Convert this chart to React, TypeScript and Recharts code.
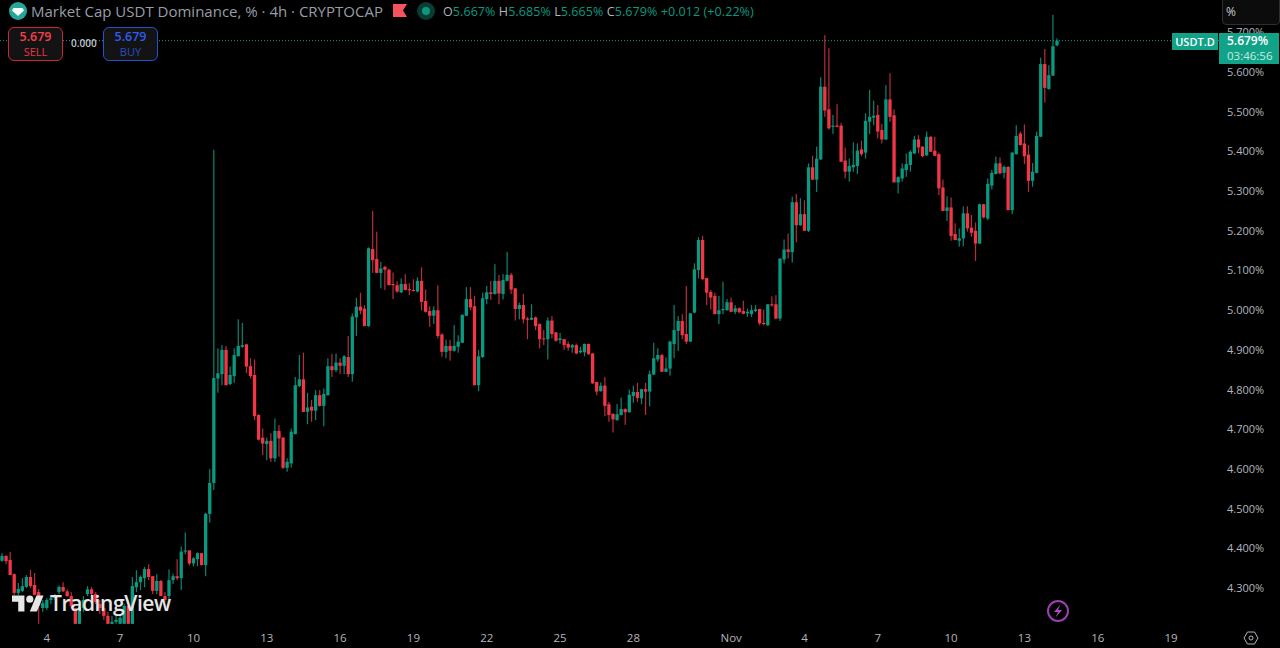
import { Bar, ComposedChart, ReferenceLine, XAxis, YAxis } from "recharts";

const UP = "#089981";
const DOWN = "#f23645";
const UP_WICK = "#0a8572";
const DOWN_WICK = "#b82c3c";
const TEXT = "#b2b5be";
const FONT = "'Open Sans', sans-serif";

// 4h candles
const opens = [
  4.369, 4.381, 4.371, 4.335, 4.288, 4.293, 4.303, 4.328, 4.308, 4.29,
  4.25, 4.25, 4.27, 4.275, 4.29, 4.303, 4.292, 4.28, 4.25, 4.21,
  4.25, 4.285, 4.297, 4.285, 4.26, 4.25, 4.23, 4.21, 4.215, 4.21,
  4.21, 4.255, 4.21, 4.302, 4.315, 4.325, 4.348, 4.33, 4.293, 4.318,
  4.28, 4.28, 4.32, 4.33, 4.325, 4.392, 4.395, 4.362, 4.373, 4.388,
  4.358, 4.487, 4.565, 4.828, 4.839, 4.9, 4.814, 4.834, 4.884, 4.908,
  4.914, 4.859, 4.837, 4.736, 4.679, 4.663, 4.671, 4.627, 4.696, 4.679,
  4.603, 4.614, 4.688, 4.809, 4.826, 4.744, 4.757, 4.747, 4.786, 4.759,
  4.786, 4.859, 4.849, 4.868, 4.86, 4.882, 4.839, 4.982, 5.009, 5.004,
  4.96, 5.154, 5.129, 5.094, 5.109, 5.102, 5.066, 5.063, 5.045, 5.066,
  5.053, 5.051, 5.047, 5.074, 5.023, 4.998, 4.986, 5.0, 4.939, 4.895,
  4.91, 4.898, 4.908, 4.918, 4.986, 5.028, 5.01, 4.811, 4.882, 5.028,
  5.045, 5.041, 5.074, 5.041, 5.074, 5.089, 5.055, 5.003, 5.013, 4.979,
  4.976, 4.982, 4.965, 4.929, 4.927, 4.974, 4.944, 4.925, 4.927, 4.915,
  4.906, 4.912, 4.894, 4.894, 4.915, 4.891, 4.819, 4.796, 4.81, 4.763,
  4.739, 4.723, 4.736, 4.751, 4.743, 4.784, 4.794, 4.778, 4.801, 4.795,
  4.838, 4.876, 4.887, 4.845, 4.853, 4.915, 4.948, 4.973, 4.94, 4.921,
  4.994, 5.101, 5.177, 5.081, 5.046, 5.036, 4.99, 5.0, 5.0, 5.02,
  4.996, 5.005, 4.998, 4.992, 4.99, 4.998, 5.003, 4.968, 4.962, 5.015,
  5.015, 4.979, 5.128, 5.153, 5.146, 5.272, 5.214, 5.242, 5.2, 5.36,
  5.329, 5.38, 5.563, 5.506, 5.462, 5.465, 5.465, 5.377, 5.349, 5.36,
  5.363, 5.405, 5.397, 5.475, 5.485, 5.492, 5.454, 5.43, 5.531, 5.491,
  5.322, 5.332, 5.353, 5.366, 5.395, 5.43, 5.412, 5.39, 5.437, 5.402,
  5.393, 5.309, 5.25, 5.259, 5.192, 5.175, 5.181, 5.244, 5.208, 5.2,
  5.168, 5.267, 5.231, 5.314, 5.343, 5.37, 5.346, 5.361, 5.252, 5.393,
  5.445, 5.42, 5.392, 5.326, 5.346, 5.437, 5.62, 5.557, 5.591, 5.667,
];
const highs = [
  4.388, 4.383, 4.391, 4.337, 4.313, 4.325, 4.333, 4.346, 4.338, 4.297,
  4.27, 4.275, 4.28, 4.285, 4.307, 4.315, 4.297, 4.29, 4.25, 4.26,
  4.28, 4.305, 4.303, 4.29, 4.27, 4.26, 4.24, 4.23, 4.23, 4.235,
  4.26, 4.27, 4.328, 4.345, 4.332, 4.353, 4.36, 4.33, 4.335, 4.32,
  4.29, 4.347, 4.337, 4.373, 4.405, 4.44, 4.395, 4.378, 4.39, 4.388,
  4.49, 4.6, 5.404, 4.904, 4.912, 4.91, 4.858, 4.904, 4.977, 4.968,
  4.916, 4.879, 4.876, 4.738, 4.702, 4.679, 4.69, 4.727, 4.711, 4.681,
  4.627, 4.702, 4.832, 4.887, 4.893, 4.792, 4.774, 4.799, 4.799, 4.803,
  4.879, 4.89, 4.891, 4.879, 4.887, 4.935, 4.992, 5.031, 5.044, 5.013,
  5.158, 5.25, 5.198, 5.122, 5.112, 5.105, 5.095, 5.073, 5.08, 5.091,
  5.068, 5.078, 5.083, 5.108, 5.052, 5.01, 5.01, 5.063, 4.942, 4.926,
  4.925, 4.963, 4.937, 4.99, 5.058, 5.058, 5.036, 4.9, 5.044, 5.061,
  5.074, 5.116, 5.089, 5.091, 5.147, 5.094, 5.056, 5.019, 5.041, 4.983,
  5.015, 4.984, 4.967, 4.95, 4.982, 4.985, 4.945, 4.943, 4.928, 4.921,
  4.915, 4.916, 4.908, 4.916, 4.916, 4.892, 4.82, 4.818, 4.832, 4.769,
  4.74, 4.764, 4.78, 4.753, 4.8, 4.81, 4.817, 4.802, 4.817, 4.848,
  4.918, 4.904, 4.89, 4.881, 4.923, 5.013, 4.985, 4.99, 5.061, 4.993,
  5.118, 5.184, 5.187, 5.082, 5.051, 5.044, 5.036, 5.072, 5.028, 5.032,
  5.013, 5.007, 5.024, 5.004, 5.013, 5.013, 5.004, 5.002, 5.016, 5.035,
  5.038, 5.131, 5.178, 5.193, 5.286, 5.293, 5.282, 5.277, 5.37, 5.389,
  5.412, 5.587, 5.693, 5.66, 5.492, 5.519, 5.472, 5.41, 5.382, 5.423,
  5.42, 5.427, 5.496, 5.555, 5.528, 5.517, 5.469, 5.567, 5.597, 5.506,
  5.337, 5.37, 5.395, 5.403, 5.439, 5.441, 5.413, 5.45, 5.438, 5.437,
  5.397, 5.329, 5.287, 5.284, 5.219, 5.206, 5.261, 5.262, 5.24, 5.221,
  5.268, 5.268, 5.332, 5.353, 5.387, 5.385, 5.365, 5.363, 5.399, 5.466,
  5.45, 5.468, 5.416, 5.371, 5.45, 5.636, 5.658, 5.617, 5.744, 5.685,
];
const lows = [
  4.366, 4.36, 4.333, 4.282, 4.282, 4.29, 4.3, 4.3, 4.282, 4.21,
  4.24, 4.245, 4.26, 4.27, 4.285, 4.29, 4.278, 4.25, 4.21, 4.21,
  4.24, 4.28, 4.28, 4.26, 4.235, 4.22, 4.21, 4.21, 4.21, 4.21,
  4.21, 4.21, 4.21, 4.29, 4.295, 4.302, 4.32, 4.285, 4.285, 4.28,
  4.265, 4.27, 4.31, 4.32, 4.295, 4.385, 4.357, 4.355, 4.355, 4.357,
  4.33, 4.465, 4.547, 4.792, 4.811, 4.811, 4.811, 4.817, 4.884, 4.905,
  4.842, 4.828, 4.723, 4.672, 4.635, 4.622, 4.618, 4.618, 4.631, 4.6,
  4.593, 4.604, 4.687, 4.806, 4.744, 4.713, 4.719, 4.723, 4.757, 4.708,
  4.785, 4.832, 4.844, 4.839, 4.839, 4.832, 4.82, 4.935, 4.99, 4.96,
  4.958, 5.094, 5.093, 5.055, 5.051, 5.063, 5.028, 5.044, 5.043, 5.05,
  5.038, 5.047, 5.045, 4.999, 4.994, 4.958, 4.965, 4.929, 4.883, 4.879,
  4.873, 4.896, 4.893, 4.917, 4.985, 5.0, 4.811, 4.796, 4.88, 5.015,
  5.026, 5.039, 5.015, 5.027, 5.072, 5.041, 4.974, 4.977, 4.967, 4.927,
  4.975, 4.95, 4.904, 4.912, 4.876, 4.929, 4.921, 4.916, 4.9, 4.898,
  4.893, 4.889, 4.891, 4.884, 4.888, 4.814, 4.786, 4.795, 4.733, 4.719,
  4.692, 4.722, 4.735, 4.711, 4.742, 4.767, 4.769, 4.763, 4.736, 4.758,
  4.837, 4.87, 4.845, 4.844, 4.835, 4.879, 4.897, 4.927, 4.915, 4.92,
  4.992, 5.08, 5.077, 5.013, 5.002, 4.99, 4.965, 4.99, 4.999, 4.996,
  4.99, 4.992, 4.99, 4.983, 4.983, 4.995, 4.962, 4.962, 4.961, 5.009,
  4.977, 4.973, 5.118, 5.13, 5.12, 5.171, 5.213, 5.2, 5.197, 5.328,
  5.298, 5.378, 5.487, 5.455, 5.444, 5.461, 5.374, 5.332, 5.324, 5.349,
  5.343, 5.388, 5.382, 5.444, 5.466, 5.433, 5.42, 5.429, 5.475, 5.322,
  5.294, 5.324, 5.336, 5.349, 5.393, 5.395, 5.385, 5.389, 5.399, 5.389,
  5.29, 5.249, 5.225, 5.175, 5.176, 5.16, 5.161, 5.198, 5.185, 5.124,
  5.167, 5.231, 5.227, 5.304, 5.342, 5.342, 5.332, 5.252, 5.242, 5.392,
  5.415, 5.368, 5.298, 5.311, 5.345, 5.436, 5.523, 5.556, 5.59, 5.665,
];
const closes = [
  4.381, 4.368, 4.333, 4.288, 4.298, 4.305, 4.328, 4.305, 4.283, 4.255,
  4.262, 4.27, 4.275, 4.28, 4.303, 4.292, 4.28, 4.255, 4.21, 4.25,
  4.27, 4.297, 4.285, 4.265, 4.25, 4.23, 4.21, 4.215, 4.22, 4.225,
  4.255, 4.21, 4.305, 4.315, 4.328, 4.348, 4.328, 4.293, 4.318, 4.28,
  4.27, 4.32, 4.33, 4.325, 4.392, 4.395, 4.362, 4.375, 4.388, 4.358,
  4.487, 4.565, 4.829, 4.841, 4.9, 4.811, 4.837, 4.887, 4.91, 4.912,
  4.858, 4.834, 4.733, 4.674, 4.664, 4.671, 4.627, 4.696, 4.677, 4.603,
  4.618, 4.694, 4.811, 4.826, 4.744, 4.755, 4.747, 4.786, 4.759, 4.789,
  4.859, 4.849, 4.868, 4.86, 4.884, 4.839, 4.984, 5.009, 4.999, 4.96,
  5.156, 5.126, 5.094, 5.105, 5.102, 5.063, 5.063, 5.047, 5.066, 5.051,
  5.051, 5.049, 5.074, 5.021, 4.996, 4.986, 5.0, 4.935, 4.895, 4.91,
  4.898, 4.91, 4.921, 4.988, 5.028, 5.007, 4.811, 4.884, 5.03, 5.045,
  5.041, 5.074, 5.042, 5.076, 5.089, 5.052, 5.003, 5.013, 4.977, 4.976,
  4.981, 4.96, 4.927, 4.927, 4.974, 4.94, 4.923, 4.929, 4.912, 4.906,
  4.912, 4.891, 4.898, 4.915, 4.889, 4.816, 4.795, 4.81, 4.759, 4.736,
  4.725, 4.738, 4.751, 4.743, 4.787, 4.794, 4.779, 4.801, 4.795, 4.839,
  4.879, 4.887, 4.845, 4.853, 4.921, 4.95, 4.973, 4.937, 4.921, 4.992,
  5.103, 5.177, 5.078, 5.044, 5.032, 4.99, 5.0, 5.003, 5.02, 4.996,
  5.005, 4.995, 4.991, 4.996, 5.0, 5.002, 4.967, 4.965, 5.015, 5.012,
  4.979, 5.13, 5.153, 5.147, 5.272, 5.214, 5.242, 5.2, 5.36, 5.329,
  5.382, 5.563, 5.503, 5.458, 5.465, 5.462, 5.374, 5.349, 5.363, 5.366,
  5.402, 5.393, 5.477, 5.487, 5.49, 5.45, 5.43, 5.531, 5.487, 5.322,
  5.335, 5.357, 5.368, 5.399, 5.43, 5.41, 5.388, 5.437, 5.399, 5.389,
  5.307, 5.25, 5.259, 5.187, 5.177, 5.181, 5.244, 5.206, 5.195, 5.168,
  5.267, 5.234, 5.318, 5.346, 5.37, 5.345, 5.361, 5.252, 5.397, 5.439,
  5.416, 5.388, 5.326, 5.349, 5.439, 5.62, 5.56, 5.592, 5.665, 5.679,
];

// bar index -> date label; the axis runs on past the last candle up to the 19th
const BAR_COUNT = 300;
const xTicks = [11, 29, 47, 65, 83, 101, 119, 137, 155, 179, 197, 215, 233, 251, 269, 287];
const xLabels = ["4", "7", "10", "13", "16", "19", "22", "25", "28", "Nov", "4", "7", "10", "13", "16", "19"];
const yTicks = [4.3, 4.4, 4.5, 4.6, 4.7, 4.8, 4.9, 5.0, 5.1, 5.2, 5.3, 5.4, 5.5, 5.6, 5.7];
const LAST_PRICE = 5.679;

const chartData = Array.from({ length: BAR_COUNT }, (_, i) => ({
  idx: i,
  range: i < opens.length ? [lows[i], highs[i]] : null,
  open: opens[i],
  high: highs[i],
  low: lows[i],
  close: closes[i],
}));

function Candle(props: any) {
  const { x, y, width, height, payload } = props;
  if (!payload || payload.open == null) return null;
  const { open, close, high, low } = payload;
  const isUp = close >= open;
  const perUnit = height / (high - low);
  const cx = x + width / 2;
  const top = y + (high - Math.max(open, close)) * perUnit;
  const bodyH = Math.max(1, Math.abs(close - open) * perUnit);
  return (
    <g>
      <rect x={cx - 0.6} y={y} width={1.2} height={height} fill={isUp ? UP_WICK : DOWN_WICK} />
      <rect x={cx - 1.65} y={top} width={3.3} height={bodyH} fill={isUp ? UP : DOWN} />
    </g>
  );
}

function Header() {
  return (
    <>
      <svg width={20} height={20} style={{ position: "absolute", left: 8, top: 1 }}>
        <circle cx={10} cy={10} r={9} fill="#26a69a" />
        <path d="M5.5 7h9l1.5 2.5L10 15 4 9.5z" fill="#fff" />
      </svg>
      <div style={{ position: "absolute", left: 31, top: 1, fontSize: 15, color: "#9a9da6", whiteSpace: "nowrap" }}>
        Market Cap USDT Dominance, % · 4h · CRYPTOCAP
      </div>
      <svg width={14} height={14} style={{ position: "absolute", left: 393, top: 4 }}>
        <path d="M0 0h14l-4 6.5 4 6.5H0z" fill="#f7525f" />
      </svg>
      <svg width={20} height={20} style={{ position: "absolute", left: 416, top: 1 }}>
        <circle cx={10} cy={10} r={9} fill="#0b3b33" />
        <circle cx={10} cy={10} r={4} fill={UP} />
      </svg>
      <div style={{ position: "absolute", left: 443, top: 3, fontSize: 12.5, color: UP, whiteSpace: "nowrap", letterSpacing: 0.08 }}>
        <span style={{ color: TEXT }}>O</span>5.667%{" "}
        <span style={{ color: TEXT }}>H</span>5.685%{" "}
        <span style={{ color: TEXT }}>L</span>5.665%{" "}
        <span style={{ color: TEXT }}>C</span>5.679%{" "}
        +0.012 (+0.22%)
      </div>
    </>
  );
}

function TradeButton({ left, color, labelColor, border, label }: { left: number; color: string; labelColor: string; border: string; label: string }) {
  return (
    <div
      style={{
        position: "absolute",
        left,
        top: 27,
        width: 53,
        height: 32,
        border: `1px solid ${border}`,
        borderRadius: 6,
        background: "#131313",
        color,
        textAlign: "center",
      }}
    >
      <div style={{ fontSize: 12.5, fontWeight: 600, lineHeight: "16px", marginTop: 1 }}>5.679</div>
      <div style={{ fontSize: 11, lineHeight: "14px", color: labelColor }}>{label}</div>
    </div>
  );
}

function PriceScaleOverlay() {
  return (
    <>
      <div
        style={{
          position: "absolute",
          left: 1222,
          top: -1,
          width: 53,
          height: 24,
          border: "1px solid #2e2e2e",
          borderRadius: "0 0 4px 4px",
          background: "#0c0c0c",
          color: "#c9cbd1",
          fontSize: 12,
          lineHeight: "24px",
          paddingLeft: 3,
          boxSizing: "content-box",
        }}
      >
        %
      </div>
      <div
        style={{
          position: "absolute",
          left: 1172,
          top: 33,
          width: 46,
          height: 17,
          background: "#12a287",
          color: "#fff",
          fontSize: 11,
          fontWeight: 600,
          lineHeight: "17px",
          textAlign: "center",
        }}
      >
        USDT.D
      </div>
      <div
        style={{
          position: "absolute",
          left: 1219,
          top: 33,
          width: 60,
          height: 31,
          background: "#12a287",
          color: "#fff",
          fontSize: 12,
          lineHeight: "15px",
          paddingLeft: 8,
          boxSizing: "border-box",
        }}
      >
        <div style={{ fontWeight: 600 }}>5.679%</div>
        <div style={{ color: "#c6ece4", fontSize: 11.5 }}>03:46:56</div>
      </div>
    </>
  );
}

function Watermark() {
  return (
    <>
      <svg width={32} height={25} viewBox="0 0 36 28" style={{ position: "absolute", left: 12, top: 591.5 }}>
        <path d="M14 22H7V11H0V4h14v18zM28 22h-8l7.5-18h8L28 22z" fill="#e6e6e6" />
        <circle cx={20} cy={8} r={4} fill="#e6e6e6" />
      </svg>
      <div
        style={{
          position: "absolute",
          left: 50,
          top: 589,
          fontSize: 21,
          fontWeight: 600,
          color: "#e6e6e6",
          letterSpacing: -0.4,
          whiteSpace: "nowrap",
        }}
      >
        TradingView
      </div>
    </>
  );
}

function CornerIcons() {
  return (
    <>
      <svg width={24} height={24} style={{ position: "absolute", left: 1046, top: 599 }}>
        <circle cx={12} cy={12} r={10} fill="none" stroke="#9c3fb0" strokeWidth={2} />
        <path d="M14.5 5.5l-6.5 7.5h4L9.5 18.5 16 11h-4z" fill="#b04cc8" />
      </svg>
      <svg width={16} height={16} style={{ position: "absolute", left: 1243, top: 630 }}>
        <path d="M4.5 2h7L15 8l-3.5 6h-7L1 8z" fill="none" stroke="#b2b5be" strokeWidth={1} />
        <circle cx={8} cy={8} r={2} fill="none" stroke="#b2b5be" strokeWidth={1} />
      </svg>
    </>
  );
}

export default function App() {
  return (
    <div style={{ position: "absolute", left: 0, top: 0, width: 1280, height: 648, background: "#000", overflow: "hidden", fontFamily: FONT }}>
      <ComposedChart
        width={1280}
        height={648}
        data={chartData}
        margin={{ top: 0, right: 0, bottom: 0, left: 0 }}
        barCategoryGap={0}
      >
        <XAxis
          dataKey="idx"
          height={24}
          ticks={xTicks}
          interval={0}
          tickFormatter={(v: number) => xLabels[xTicks.indexOf(v)] ?? ""}
          tick={{ fill: TEXT, fontSize: 11.5 }}
          tickLine={false}
          axisLine={false}
          tickMargin={4}
        />
        <YAxis
          orientation="right"
          width={58}
          domain={[4.2096, 5.7814]}
          allowDataOverflow
          ticks={yTicks}
          interval={0}
          tickFormatter={(v: number) => `${v.toFixed(3)}%`}
          tick={{ fill: TEXT, fontSize: 11, textAnchor: "start" }}
          tickLine={false}
          tickSize={0}
          axisLine={false}
          tickMargin={5}
        />
        <ReferenceLine y={LAST_PRICE} stroke="#0e9f87" strokeDasharray="1 2" strokeWidth={1} />
        <Bar dataKey="range" shape={<Candle />} isAnimationActive={false} />
      </ComposedChart>
      <Watermark />
      <Header />
      <TradeButton left={8} color="#f7404f" labelColor="#e8364a" border="#c8283a" label="SELL" />
      <div style={{ position: "absolute", left: 71, top: 36, fontSize: 10, fontWeight: 600, color: "#c4c6cc" }}>0.000</div>
      <TradeButton left={103} color="#2f5bf0" labelColor="#2a4cc0" border="#2652d0" label="BUY" />
      <PriceScaleOverlay />
      <CornerIcons />
    </div>
  );
}
